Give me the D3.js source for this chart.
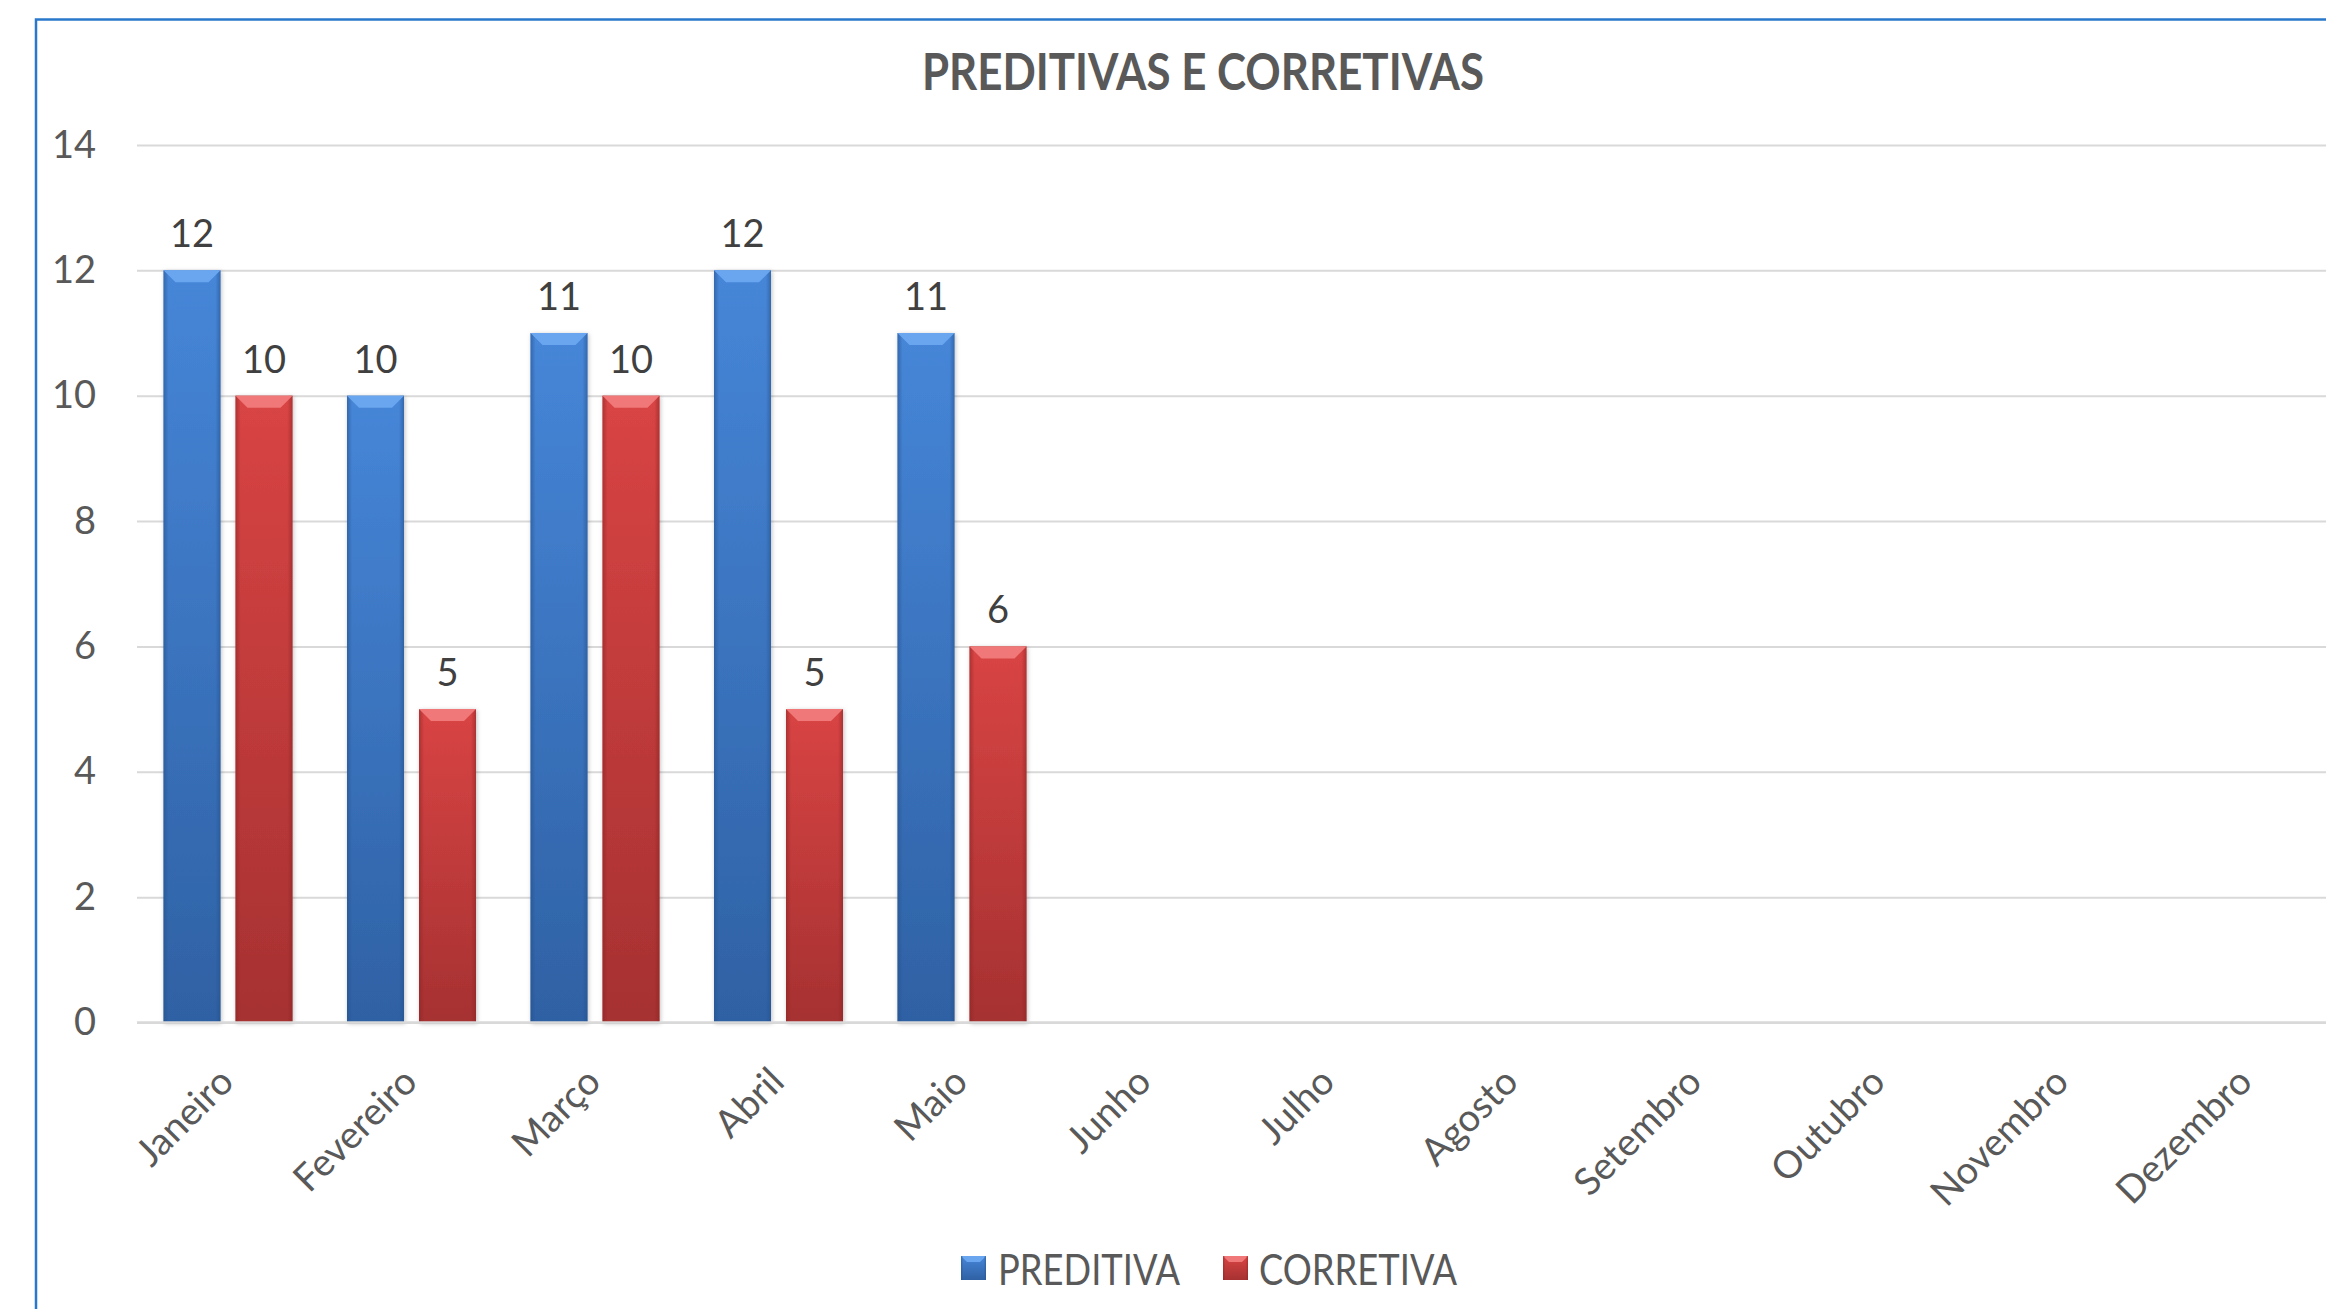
<!DOCTYPE html>
<html>
<head>
<meta charset="utf-8">
<script src="https://cdnjs.cloudflare.com/ajax/libs/d3/7.8.5/d3.min.js"></script>
<style>
  html, body { margin: 0; padding: 0; background: #ffffff; overflow: hidden; }
  svg { display: block; }
</style>
</head>
<body>
<svg id="chart" width="2326" height="1309"></svg>
<script>
// ---- data ----
const categories = ["Janeiro","Fevereiro","Março","Abril","Maio","Junho","Julho","Agosto","Setembro","Outubro","Novembro","Dezembro"];
const seriesNames = ["PREDITIVA","CORRETIVA"];
const preditiva = [12, 10, 11, 12, 11, null, null, null, null, null, null, null];
const corretiva = [10, 5, 10, 5, 6, null, null, null, null, null, null, null];
const yTicks = [0, 2, 4, 6, 8, 10, 12, 14];
const chartTitle = "PREDITIVAS E CORRETIVAS";

// ---- layout ----
const W = 2326, H = 1309;
const svg = d3.select("#chart");
const FONT = "Lato, 'Open Sans', sans-serif";

const plotLeft = 138, plotRight = 2340, plotTop = 145, plotBottom = 1022.5;

const x0 = d3.scaleBand().domain(categories).range([plotLeft, plotRight]).padding(0);
const x1 = d3.scaleBand().domain(seriesNames)
  .range([25.5, 154.5]).paddingInner(15 / 72).paddingOuter(0);
const y = d3.scaleLinear().domain([0, 14]).range([plotBottom, plotTop]);

const palette = {
  PREDITIVA: { top: "#4686d8", bottom: "#2f61a4", bevel: "#6aa6ef", edge: "#24508a" },
  CORRETIVA: { top: "#d94444", bottom: "#a63131", bevel: "#f07878", edge: "#8a2424" }
};

const defs = svg.append("defs");
seriesNames.forEach((s, i) => {
  const g = defs.append("linearGradient").attr("id", "grad" + i)
    .attr("x1", 0).attr("y1", 0).attr("x2", 0).attr("y2", 1);
  g.append("stop").attr("offset", "0%").attr("stop-color", palette[s].top);
  g.append("stop").attr("offset", "100%").attr("stop-color", palette[s].bottom);
  const h = defs.append("linearGradient").attr("id", "side" + i)
    .attr("x1", 0).attr("y1", 0).attr("x2", 1).attr("y2", 0);
  h.append("stop").attr("offset", "0%").attr("stop-color", palette[s].edge).attr("stop-opacity", 0.55);
  h.append("stop").attr("offset", "9%").attr("stop-color", palette[s].edge).attr("stop-opacity", 0);
  h.append("stop").attr("offset", "91%").attr("stop-color", palette[s].edge).attr("stop-opacity", 0);
  h.append("stop").attr("offset", "100%").attr("stop-color", palette[s].edge).attr("stop-opacity", 0.55);
});
const f = defs.append("filter").attr("id", "shadow")
  .attr("x", "-20%").attr("y", "-5%").attr("width", "140%").attr("height", "110%");
f.append("feDropShadow").attr("dx", 1).attr("dy", 1).attr("stdDeviation", 2)
  .attr("flood-color", "#000").attr("flood-opacity", 0.25);

// ---- border ----
svg.append("rect")
  .attr("x", 36).attr("y", 19.5).attr("width", W + 20).attr("height", H + 20)
  .attr("fill", "none").attr("stroke", "#2a78cc").attr("stroke-width", 2.5);

// ---- title ----
svg.append("text")
  .attr("transform", "translate(1203,90) scale(0.86,1)")
  .attr("text-anchor", "middle")
  .style("font-family", FONT).style("font-weight", "bold")
  .style("font-size", "51px").style("fill", "#595959")
  .text(chartTitle);

// ---- gridlines ----
const yAxis = d3.axisLeft(y).tickValues(yTicks).tickSize(-(W - plotLeft + 1)).tickPadding(40).tickFormat(d3.format("d"));
const gy = svg.append("g").attr("transform", `translate(${plotLeft - 1},0)`).call(yAxis);
gy.select(".domain").remove();
gy.selectAll(".tick line").attr("stroke", "#d9d9d9").attr("stroke-width", 2);
gy.selectAll(".tick text")
  .attr("x", -41)
  .style("font-family", FONT).style("font-size", "38px").style("fill", "#595959");

// ---- bars ----
const data = categories.map((c, i) => ({ cat: c, values: [
  { s: "PREDITIVA", v: preditiva[i], idx: 0 },
  { s: "CORRETIVA", v: corretiva[i], idx: 1 }
].filter(d => d.v != null) }));

const groups = svg.append("g").selectAll("g").data(data).join("g")
  .attr("transform", d => `translate(${x0(d.cat)},0)`);

const bars = groups.selectAll("g.bar").data(d => d.values).join("g").attr("class", "bar");
bars.append("rect")
  .attr("x", d => x1(d.s)).attr("y", d => y(d.v))
  .attr("width", x1.bandwidth()).attr("height", d => y(0) - y(d.v))
  .attr("fill", d => `url(#grad${d.idx})`)
  .attr("filter", "url(#shadow)");
bars.append("rect")
  .attr("x", d => x1(d.s)).attr("y", d => y(d.v))
  .attr("width", x1.bandwidth()).attr("height", d => y(0) - y(d.v))
  .attr("fill", d => `url(#side${d.idx})`);
const bev = 12;
bars.append("polygon")
  .attr("points", d => {
    const xa = x1(d.s), xb = xa + x1.bandwidth(), yt = y(d.v);
    return [[xa, yt], [xb, yt], [xb - bev, yt + bev], [xa + bev, yt + bev]].map(p => p.join(",")).join(" ");
  })
  .attr("fill", d => palette[d.s].bevel);
bars.append("text")
  .attr("x", d => x1(d.s) + x1.bandwidth() / 2)
  .attr("y", d => y(d.v) - 23)
  .attr("text-anchor", "middle")
  .style("font-family", FONT).style("font-size", "38px").style("fill", "#404040")
  .text(d => d.v);

// ---- x axis baseline ----
svg.append("line")
  .attr("x1", plotLeft - 1).attr("x2", W).attr("y1", y(0)).attr("y2", y(0))
  .attr("stroke", "#d9d9d9").attr("stroke-width", 2.5);

// ---- category labels ----
svg.append("g").selectAll("text").data(categories).join("text")
  .attr("transform", d => `translate(${x0(d) + x0.bandwidth() / 2 + 6},${1084}) rotate(-45)`)
  .attr("text-anchor", "end")
  .style("font-family", FONT).style("font-size", "38px").style("fill", "#595959")
  .text(d => d);

// ---- legend ----
const legendItems = [
  { s: "PREDITIVA", idx: 0, x: 961, tx: 998 },
  { s: "CORRETIVA", idx: 1, x: 1223, tx: 1259 }
];
const lg = svg.append("g").selectAll("g").data(legendItems).join("g");
lg.append("rect").attr("x", d => d.x).attr("y", 1256).attr("width", 25).attr("height", 24)
  .attr("fill", d => `url(#grad${d.idx})`);
lg.append("polygon")
  .attr("points", d => [[d.x, 1256], [d.x + 25, 1256], [d.x + 19, 1262], [d.x + 6, 1262]].map(p => p.join(",")).join(" "))
  .attr("fill", d => palette[d.s].bevel);
lg.append("rect").attr("x", d => d.x).attr("y", 1256).attr("width", 25).attr("height", 24)
  .attr("fill", d => `url(#side${d.idx})`);
lg.append("text")
  .attr("transform", d => `translate(${d.tx},1285) scale(0.865,1)`)
  .style("font-family", FONT).style("font-size", "42px").style("fill", "#595959")
  .text(d => d.s);
</script>
</body>
</html>
